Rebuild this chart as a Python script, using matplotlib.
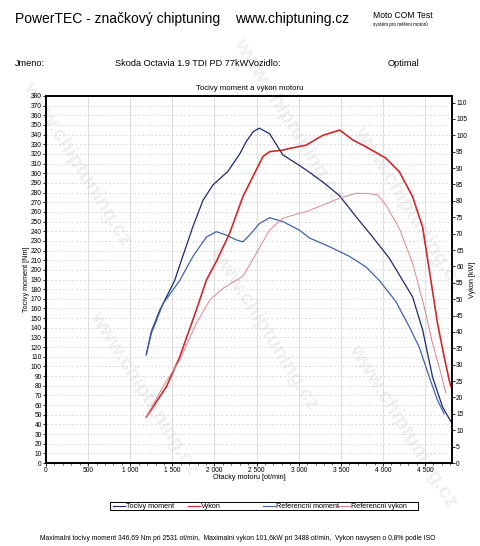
import numpy as np
import matplotlib.pyplot as plt
from matplotlib.ticker import MultipleLocator, FuncFormatter
from matplotlib.lines import Line2D
from matplotlib.patches import Rectangle

plt.rcParams['font.family'] = ['Liberation Sans', 'DejaVu Sans']

# Tocivy moment (tuned torque) [Nm]
tq_rpm = [1190, 1250, 1350, 1528, 1608, 1745, 1864, 1983, 2160, 2300, 2378, 2460, 2531,
          2654, 2812, 3010, 3128, 3300, 3483, 3681, 3878, 4076, 4235, 4352, 4471, 4589, 4708, 4806]
tq_nm = [112, 136, 158, 189, 210, 245, 272, 288, 302, 320, 333, 343, 346.7,
         341, 319, 308, 301, 290, 277, 255, 234, 212, 189, 172, 138, 89, 58, 43]

# Referencni moment [Nm]
rtq_rpm = [1190, 1250, 1390, 1588, 1745, 1904, 2022, 2141, 2259, 2338, 2417, 2535, 2654,
           2812, 3010, 3128, 3365, 3602, 3799, 3957, 4155, 4313, 4431, 4550, 4648, 4727]
rtq_nm = [112, 134, 165, 189, 214, 234, 239.5, 236, 231, 229, 236, 248, 254,
          250, 241, 233, 224, 214, 203, 189, 167, 141, 120, 89, 65, 51]

# Vykon (tuned power) [kW]
pw_rpm = [1190, 1430, 1588, 1785, 1904, 2022, 2180, 2338, 2456, 2575, 2654, 2812, 2891,
          3089, 3286, 3488, 3641, 3799, 4036, 4194, 4352, 4471, 4569, 4648, 4727, 4787, 4806]
pw_kw = [14, 23.3, 32.4, 46.7, 55.8, 61.5, 70.1, 81.3, 87.4, 93.5, 95, 95.5, 96,
         97, 100, 101.6, 98.6, 96.5, 93, 88.9, 81.3, 72, 55.8, 42.6, 32.4, 25.3, 23.3]

# Referencni vykon [kW]
rpw_rpm = [1190, 1390, 1588, 1785, 1943, 2101, 2299, 2338, 2496, 2654, 2812, 3010, 3089,
           3286, 3483, 3681, 3799, 3937, 4036, 4194, 4352, 4490, 4589, 4688, 4747]
rpw_kw = [14, 23.3, 31.4, 42.6, 49.7, 53.3, 56.4, 57, 64, 71.1, 74.7, 76.2, 76.7,
          78.7, 80.8, 82.3, 82.3, 81.8, 78.7, 71.6, 61, 47.7, 36.5, 27.4, 21.3]

c_tq = '#1c2a6e'
c_pw = '#d0282c'
c_rtq = '#3f63aa'
c_rpw = '#dc8590'

fig = plt.figure(figsize=(4.8, 5.46), dpi=100)

# faint watermark of the scanned sheet, kept behind everything
for (wx, wy) in [(0.16, 0.70), (0.30, 0.28), (0.60, 0.78),
                 (0.55, 0.40), (0.85, 0.62), (0.84, 0.22)]:
    fig.text(wx, wy, 'www.chiptuning.cz', fontsize=15, fontweight='bold',
             color='#efefef', rotation=-58, ha='center', va='center', zorder=-5)

ax = fig.add_axes([46 / 480, 1 - 463 / 546, (452 - 46) / 480, (463 - 96) / 546])
ax.patch.set_alpha(0)
ax2 = ax.twinx()

ax.plot(tq_rpm, tq_nm, color=c_tq, lw=0.9)
ax.plot(rtq_rpm, rtq_nm, color=c_rtq, lw=0.9)
ax2.plot(pw_rpm, pw_kw, color=c_pw, lw=1.2)
ax2.plot(rpw_rpm, rpw_kw, color=c_rpw, lw=0.7)

ax.set_xlim(0, 4820)
ax.set_ylim(0, 380)
ax2.set_ylim(0, 112)

ax.xaxis.set_major_locator(MultipleLocator(500))
ax.xaxis.set_minor_locator(MultipleLocator(100))
ax.xaxis.set_major_formatter(FuncFormatter(lambda v, p: f'{int(v):,}'.replace(',', ' ')))
ax.yaxis.set_major_locator(MultipleLocator(10))
ax2.yaxis.set_major_locator(MultipleLocator(5))

ax.grid(axis='x', color='#d0d0d0', lw=0.5)
ax.grid(axis='y', color='#cccccc', lw=0.5, ls=(0, (3, 3)))

for a in (ax, ax2):
    a.tick_params(labelsize=4.8, length=2, width=0.6, pad=1)
    for s in a.spines.values():
        s.set_linewidth(1.2)
ax.tick_params(axis='x', which='minor', length=1.2, width=0.4)

ax.set_xlabel('Otacky motoru [ot/min]', fontsize=5.2, labelpad=0)
ax.set_ylabel('Tocivy moment [Nm]', fontsize=5.2, labelpad=0)
ax2.set_ylabel('Vykon [kW]', fontsize=5.2, labelpad=1)
ax.yaxis.set_label_coords(-0.04, 0.5)

# header texts
fig.text(15 / 480, 1 - 19 / 546, 'PowerTEC - značkový chiptuning', fontsize=10, va='center')
fig.text(235 / 480, 1 - 19 / 546, 'www.chiptuning.cz', fontsize=10, va='center')
fig.text(373 / 480, 1 - 16 / 546, 'Moto COM Test', fontsize=6.2, va='center')
fig.text(373 / 480, 1 - 24 / 546, 'systém pro měření motorů', fontsize=3.3, va='center')
fig.text(15 / 480, 1 - 63 / 546, 'Jmeno:', fontsize=6.6, va='center')
fig.text(115 / 480, 1 - 63 / 546, 'Skoda Octavia 1.9 TDI PD 77kWVozidlo:', fontsize=6.6, va='center')
fig.text(388 / 480, 1 - 63 / 546, 'Optimal', fontsize=6.6, va='center')
fig.text(250 / 480, 1 - 89 / 546, 'Tocivy moment a vykon motoru', fontsize=5.6, ha='center', va='center')

# legend box
fig.patches.append(Rectangle((110 / 480, 1 - 510 / 546), (418 - 110) / 480, 8 / 546,
                             transform=fig.transFigure, fill=False, lw=0.7, ec='black'))
leg_items = [('Tocivy moment', c_tq, 113), ('Vykon', c_pw, 188),
             ('Referencni moment', c_rtq, 263), ('Referencni vykon', c_rpw, 338)]
for name, col, lx in leg_items:
    fig.lines.append(Line2D([lx / 480, (lx + 12) / 480], [1 - 506 / 546] * 2,
                            transform=fig.transFigure, color=col, lw=0.8))
    fig.text((lx + 13) / 480, 1 - 506 / 546, name, fontsize=5.2, va='center')

fig.text(40 / 480, 1 - 538 / 546,
         'Maximalni tocivy moment 346,69 Nm pri 2531 ot/min,  Maximalni vykon 101,6kW pri 3488 ot/min,  '
         'Vykon navysen o 0,8% podle ISO', fontsize=4.9, va='center')

fig.savefig('out.png', dpi=100)
